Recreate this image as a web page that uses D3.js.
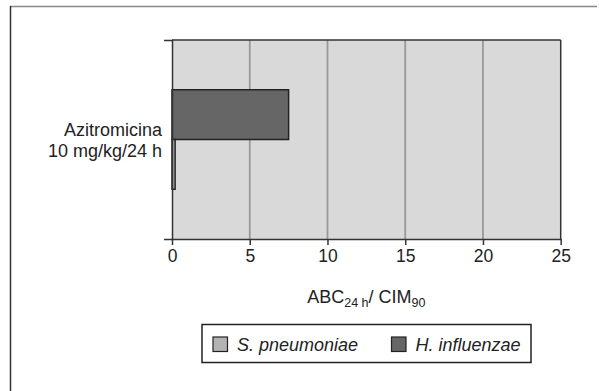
<!DOCTYPE html>
<html>
<head>
<meta charset="utf-8">
<script src="https://cdn.jsdelivr.net/npm/d3@7"></script>
<style>
  body { margin: 0; background: #fff; }
  text { font-family: "Liberation Sans", Arial, sans-serif; fill: #222; }
</style>
</head>
<body>
<div id="chart"></div>
<script>
// data
const categories = ["Azitromicina|10 mg/kg/24 h"];
const seriesNames = ["H. influenzae", "S. pneumoniae"];
const hInfluenzae = [7.5];
const sPneumoniae = [0.2];
const xTicks = [0, 5, 10, 15, 20, 25];
const legendOrder = ["S. pneumoniae", "H. influenzae"];

const colors = { "S. pneumoniae": "#b3b3b3", "H. influenzae": "#666666" };

const W = 599, H = 391;
const svg = d3.select("#chart").append("svg")
    .attr("width", W)
    .attr("height", H);

// outer frame (only top and left show)
svg.append("line").attr("x1", 10).attr("x2", 597).attr("y1", 6.5).attr("y2", 6.5)
    .attr("stroke", "#888").attr("stroke-width", 1.5);
svg.append("line").attr("x1", 10.5).attr("x2", 10.5).attr("y1", 6).attr("y2", H)
    .attr("stroke", "#333").attr("stroke-width", 1.5);

const plot = { left: 172, right: 560.7, top: 40, bottom: 239 };

const x = d3.scaleLinear().domain([0, 25]).range([plot.left, plot.right]);
const y0 = d3.scaleBand().domain(categories).range([plot.top, plot.bottom])
    .paddingInner(0).paddingOuter(0.5);
const y1 = d3.scaleBand().domain(seriesNames).range([0, y0.bandwidth()]);

// background
svg.append("rect")
    .attr("x", plot.left).attr("y", plot.top)
    .attr("width", plot.right - plot.left).attr("height", plot.bottom - plot.top)
    .attr("fill", "#d9d9d9");

// grid lines
svg.append("g").selectAll("line")
    .data(xTicks.filter(d => d > 0 && d < 25))
    .join("line")
    .attr("x1", d => x(d)).attr("x2", d => x(d))
    .attr("y1", plot.top).attr("y2", plot.bottom)
    .attr("stroke", "#999").attr("stroke-width", 1.8);

// bars
const rows = categories.map((c, i) => ({
    cat: c,
    values: [
        { name: "H. influenzae", v: hInfluenzae[i] },
        { name: "S. pneumoniae", v: sPneumoniae[i] }
    ]
}));

svg.append("g").selectAll("g")
    .data(rows)
    .join("g")
    .attr("transform", d => "translate(0," + y0(d.cat) + ")")
    .selectAll("rect")
    .data(d => d.values)
    .join("rect")
    .attr("x", x(0))
    .attr("y", d => y1(d.name))
    .attr("width", d => x(d.v) - x(0))
    .attr("height", y1.bandwidth())
    .attr("fill", d => colors[d.name])
    .attr("stroke", "#222")
    .attr("stroke-width", 1.5);

// top and right border of the plot
svg.append("line").attr("x1", plot.left).attr("x2", plot.right)
    .attr("y1", plot.top).attr("y2", plot.top)
    .attr("stroke", "#333").attr("stroke-width", 1.5);
svg.append("line").attr("x1", plot.right).attr("x2", plot.right)
    .attr("y1", plot.top).attr("y2", plot.bottom)
    .attr("stroke", "#333").attr("stroke-width", 1.5);

// x axis
const xAxis = svg.append("g")
    .attr("transform", "translate(0," + plot.bottom + ")")
    .call(d3.axisBottom(x).tickValues(xTicks).tickSize(6).tickSizeOuter(0).tickPadding(5));
xAxis.select(".domain").attr("stroke", "#333").attr("stroke-width", 1.5);
xAxis.selectAll(".tick line").attr("stroke", "#333").attr("stroke-width", 1.5);
xAxis.selectAll(".tick text")
    .style("font-family", "'Liberation Sans', Arial, sans-serif")
    .style("font-size", "17.5px").attr("fill", "#222");

// y axis (outer ticks only)
const yAxis = svg.append("g")
    .attr("transform", "translate(" + plot.left + ",0)")
    .call(d3.axisLeft(y0).tickSize(0).tickSizeOuter(8).tickFormat(""));
yAxis.select(".domain").attr("stroke", "#333").attr("stroke-width", 1.5);

// category labels
const catLabel = svg.append("g").selectAll("text")
    .data(categories)
    .join("text")
    .attr("text-anchor", "end")
    .style("font-size", "18px");
catLabel.each(function (d) {
    const lines = d.split("|");
    const cy = y0(d) + y0.bandwidth() / 2;
    d3.select(this).selectAll("tspan")
        .data(lines)
        .join("tspan")
        .attr("x", plot.left - 10)
        .attr("y", (l, i) => cy - 3.5 + i * 20.7)
        .text(l => l);
});

// axis title with subscripts
const title = svg.append("text")
    .attr("x", (plot.left + plot.right) / 2)
    .attr("y", 302.5)
    .attr("text-anchor", "middle")
    .style("font-size", "18px");
title.append("tspan").text("ABC");
title.append("tspan").attr("dy", 4.5).style("font-size", "12.5px").text("24 h");
title.append("tspan").attr("dy", -4.5).text("/ CIM");
title.append("tspan").attr("dy", 4.5).style("font-size", "12.5px").text("90");

// legend
const legend = svg.append("g");
legend.append("rect")
    .attr("x", 202).attr("y", 324.5)
    .attr("width", 329).attr("height", 38)
    .attr("fill", "#fff").attr("stroke", "#222").attr("stroke-width", 1.5);

const legendX = [213, 391.5];
const item = legend.selectAll("g.item")
    .data(legendOrder)
    .join("g")
    .attr("class", "item")
    .attr("transform", (d, i) => "translate(" + legendX[i] + ",337)");
item.append("rect")
    .attr("width", 14.5).attr("height", 14.5)
    .attr("fill", d => colors[d])
    .attr("stroke", "#222").attr("stroke-width", 1.2);
item.append("text")
    .attr("x", 24).attr("y", 14)
    .style("font-size", "18px")
    .style("font-style", "italic")
    .text(d => d);
</script>
</body>
</html>
